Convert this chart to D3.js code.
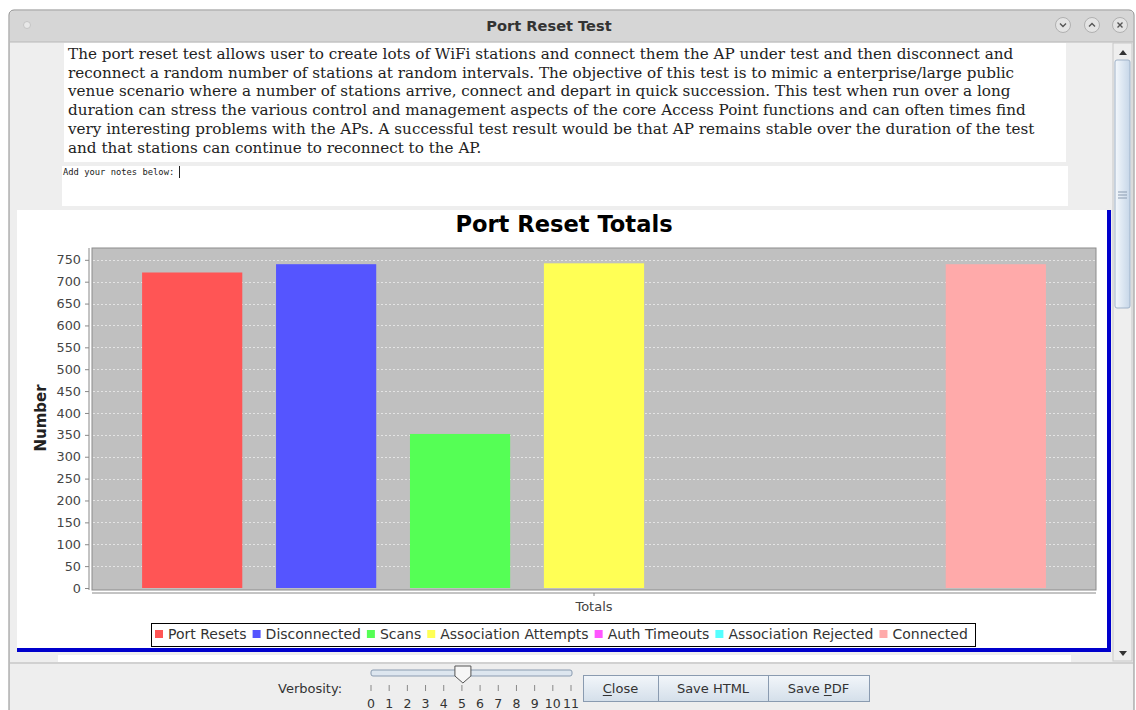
<!DOCTYPE html>
<html>
<head>
<meta charset="UTF-8">
<title>Port Reset Test</title>
<script src="https://cdnjs.cloudflare.com/ajax/libs/d3/7.8.5/d3.min.js"></script>
<style>
html, body { margin: 0; padding: 0; background: #ffffff; }
svg { display: block; font-family: "DejaVu Sans", sans-serif; }
</style>
</head>
<body>
<script>
// chart data
var category = "Totals";
var series = ["Port Resets", "Disconnected", "Scans", "Association Attempts",
              "Auth Timeouts", "Association Rejected", "Connected"];
var values = [721, 740, 352, 742, 0, 0, 740];
var colors = ["#ff5555", "#5555ff", "#55ff55", "#ffff55", "#ff55ff", "#55ffff", "#ffaaaa"];
var yTicks = [0, 50, 100, 150, 200, 250, 300, 350, 400, 450, 500, 550, 600, 650, 700, 750];

var description = [
  "The port reset test allows user to create lots of WiFi stations and connect them the AP under test and then disconnect and",
  "reconnect a random number of stations at random intervals. The objective of this test is to mimic a enterprise/large public",
  "venue scenario where a number of stations arrive, connect and depart in quick succession. This test when run over a long",
  "duration can stress the various control and management aspects of the core Access Point functions and can often times find",
  "very interesting problems with the APs. A successful test result would be that AP remains stable over the duration of the test",
  "and that stations can continue to reconnect to the AP."
];
var verbosityLevels = [0, 1, 2, 3, 4, 5, 6, 7, 8, 9, 10, 11];

var W = 1136, H = 710;
var svg = d3.select("body").append("svg").attr("width", W).attr("height", H);

// ---- window frame ----
svg.append("rect").attr("x", 9).attr("y", 10).attr("width", 1125).attr("height", 710)
   .attr("rx", 5).attr("fill", "#eeeeee").attr("stroke", "#8a8a8a");
svg.append("path").attr("d", "M10,42 L10,15 Q10,11 14,11 L1129,11 Q1133,11 1133,15 L1133,42 Z")
   .attr("fill", "#d6d6d6");
svg.append("line").attr("x1", 10).attr("x2", 1133).attr("y1", 42).attr("y2", 42).attr("stroke", "#b8b8b8");
svg.append("circle").attr("cx", 27).attr("cy", 25).attr("r", 3.5).attr("fill", "#e8e8e8").attr("stroke", "#c4c4c4");
svg.append("text").attr("x", 549).attr("y", 31).attr("text-anchor", "middle")
   .attr("font-weight", "bold").attr("font-size", 14.6).attr("fill", "#333").text("Port Reset Test");

var wbtn = [{x: 1063, s: "M-3,-1.5 L0,1.5 L3,-1.5"}, {x: 1092, s: "M-3,1.5 L0,-1.5 L3,1.5"}, {x: 1120, s: "M-2.5,-2.5 L2.5,2.5 M2.5,-2.5 L-2.5,2.5"}];
wbtn.forEach(function(b) {
  var g = svg.append("g").attr("transform", "translate(" + b.x + ",25)");
  g.append("circle").attr("r", 7.5).attr("fill", "#e4e4e4").attr("stroke", "#b0b0b0");
  g.append("path").attr("d", b.s).attr("fill", "none").attr("stroke", "#555").attr("stroke-width", 1.4);
});

// ---- description text ----
svg.append("rect").attr("x", 64).attr("y", 43).attr("width", 1002).attr("height", 119).attr("fill", "#ffffff");
svg.append("g").selectAll("text").data(description).enter().append("text")
   .attr("x", 68).attr("y", function(d, i) { return 59 + i * 18.7; })
   .attr("font-family", "'DejaVu Serif', serif").attr("font-size", 15.2).attr("fill", "#222")
   .text(function(d) { return d; });

svg.append("rect").attr("x", 62).attr("y", 166).attr("width", 1006).attr("height", 40).attr("fill", "#ffffff");
svg.append("text").attr("x", 63).attr("y", 175).attr("font-family", "'DejaVu Sans Mono', monospace")
   .attr("font-size", 8.8).attr("fill", "#222").text("Add your notes below:");
svg.append("line").attr("x1", 179.5).attr("x2", 179.5).attr("y1", 166).attr("y2", 178).attr("stroke", "#222");

// ---- chart panel ----
svg.append("rect").attr("x", 17).attr("y", 210).attr("width", 1093).attr("height", 442).attr("fill", "#ffffff");
svg.append("rect").attr("x", 1107).attr("y", 210).attr("width", 4).attr("height", 442).attr("fill", "#0000cc");
svg.append("rect").attr("x", 17).attr("y", 648).attr("width", 1094).attr("height", 4).attr("fill", "#0000cc");
svg.append("rect").attr("x", 58).attr("y", 655).attr("width", 1013).attr("height", 7).attr("fill", "#ffffff");

svg.append("text").attr("x", 564).attr("y", 232).attr("text-anchor", "middle")
   .attr("font-weight", "bold").attr("font-size", 22.6).attr("fill", "#000").text("Port Reset Totals");

var plot = {left: 92, right: 1096, top: 248, bottom: 590};
var y = d3.scaleLinear().domain([0, 777]).range([588, 248]);
var x = d3.scaleBand().domain(series).range([plot.left, plot.right]).paddingInner(0.252).paddingOuter(0.374);

svg.append("rect").attr("x", plot.left).attr("y", plot.top)
   .attr("width", plot.right - plot.left).attr("height", plot.bottom - plot.top)
   .attr("fill", "#c0c0c0").attr("stroke", "#8c8c8c").attr("stroke-width", 1);

// gridlines
svg.append("g").selectAll("line").data(yTicks.slice(1)).enter().append("line")
   .attr("x1", plot.left + 1).attr("x2", plot.right - 1)
   .attr("y1", function(d) { return Math.round(y(d)) + 0.5; })
   .attr("y2", function(d) { return Math.round(y(d)) + 0.5; })
   .attr("stroke", "#eeeeee").attr("stroke-dasharray", "2,2").attr("stroke-width", 0.8);

// bars
svg.append("g").selectAll("rect").data(values).enter().append("rect")
   .attr("x", function(d, i) { return x(series[i]); })
   .attr("width", x.bandwidth())
   .attr("y", function(d) { return y(d); })
   .attr("height", function(d) { return y(0) - y(d); })
   .attr("fill", function(d, i) { return colors[i]; });

// y axis
var yAxis = d3.axisLeft(y).tickValues(yTicks).tickSize(4).tickPadding(4);
var ya = svg.append("g").attr("transform", "translate(89,0)").call(yAxis);
ya.select(".domain").attr("d", "M0," + plot.top + "V" + plot.bottom).attr("stroke", "#888");
ya.selectAll(".tick line").attr("stroke", "#888");
ya.selectAll(".tick text").attr("font-family", "'DejaVu Sans', sans-serif").attr("font-size", 12.8).attr("fill", "#444");

svg.append("text").attr("transform", "translate(46,418) rotate(-90)").attr("text-anchor", "middle")
   .attr("font-weight", "bold").attr("font-size", 15).attr("fill", "#222").text("Number");

// x axis
var xc = d3.scaleBand().domain([category]).range([plot.left, plot.right]);
var xAxis = d3.axisBottom(xc).tickSize(3).tickPadding(6);
var xa = svg.append("g").attr("transform", "translate(0,593)").call(xAxis);
xa.select(".domain").attr("d", "M" + plot.left + ",0H" + plot.right).attr("stroke", "#888");
xa.selectAll(".tick line").attr("stroke", "#888");
xa.selectAll(".tick text").attr("font-family", "'DejaVu Sans', sans-serif").attr("font-size", 13).attr("fill", "#444");

// legend
var lg = svg.append("g");
lg.append("rect").attr("x", 151.5).attr("y", 623.5).attr("width", 824).attr("height", 23)
  .attr("fill", "#fff").attr("stroke", "#000");
var lx = 155;
series.forEach(function(s, i) {
  lg.append("rect").attr("x", lx).attr("y", 630).attr("width", 8).attr("height", 8).attr("fill", colors[i]);
  var t = lg.append("text").attr("x", lx + 13).attr("y", 639).attr("font-size", 14).attr("fill", "#333").text(s);
  lx += 13 + t.node().getComputedTextLength() + 6;
});

// ---- scrollbar ----
svg.append("rect").attr("x", 1113).attr("y", 43).attr("width", 19).attr("height", 618).attr("fill", "#eeeeee").attr("stroke", "#c8c8c8");
svg.append("path").attr("d", "M1119,55 L1123,50 L1127,55 Z").attr("fill", "#333");
svg.append("path").attr("d", "M1119,651 L1123,656 L1127,651 Z").attr("fill", "#333");
var sg = svg.append("defs").append("linearGradient").attr("id", "thumb").attr("x1", 0).attr("x2", 1);
sg.append("stop").attr("offset", 0).attr("stop-color", "#f4f8fc");
sg.append("stop").attr("offset", 1).attr("stop-color", "#c6d6e8");
svg.append("rect").attr("x", 1115).attr("y", 60).attr("width", 15).attr("height", 248).attr("rx", 2)
   .attr("fill", "url(#thumb)").attr("stroke", "#9fb2c8");
[192, 195, 198].forEach(function(gy) {
  svg.append("line").attr("x1", 1118).attr("x2", 1127).attr("y1", gy).attr("y2", gy).attr("stroke", "#8a9bb0");
});

// ---- bottom controls ----
svg.append("rect").attr("x", 10).attr("y", 663).attr("width", 1123).attr("height", 47).attr("fill", "#eeeeee");
svg.append("line").attr("x1", 10).attr("x2", 1133).attr("y1", 663).attr("y2", 663).attr("stroke", "#b4b4b4");
svg.append("text").attr("x", 278).attr("y", 693).attr("font-size", 13).attr("fill", "#333").text("Verbosity:");

var vs = d3.scaleLinear().domain([0, 11]).range([371, 571]);
svg.append("rect").attr("x", 371).attr("y", 670).attr("width", 201).attr("height", 6).attr("rx", 2)
   .attr("fill", "#dde6ef").attr("stroke", "#8a9bb0");
svg.append("g").selectAll("line").data(verbosityLevels).enter().append("line")
   .attr("x1", function(d) { return vs(d); }).attr("x2", function(d) { return vs(d); })
   .attr("y1", 685).attr("y2", 691).attr("stroke", "#888");
svg.append("g").selectAll("text").data(verbosityLevels).enter().append("text")
   .attr("x", function(d) { return vs(d); }).attr("y", 708).attr("text-anchor", "middle")
   .attr("font-size", 12.5).attr("fill", "#333").text(function(d) { return d; });
var tx = vs(5) + 1;
svg.append("path").attr("d", "M" + (tx - 8) + ",666 H" + (tx + 8) + " V676 L" + tx + ",683 L" + (tx - 8) + ",676 Z")
   .attr("fill", "#f6f6f6").attr("stroke", "#555");

var bg = svg.select("defs").append("linearGradient").attr("id", "btn").attr("x1", 0).attr("x2", 0).attr("y1", 0).attr("y2", 1);
bg.append("stop").attr("offset", 0).attr("stop-color", "#f2f6fa");
bg.append("stop").attr("offset", 1).attr("stop-color", "#d4dfea");
var buttons = [{x: 583, w: 75, t: "Close", u: 0}, {x: 658, w: 110, t: "Save HTML", u: -1}, {x: 768, w: 101, t: "Save PDF", u: 5}];
buttons.forEach(function(b) {
  svg.append("rect").attr("x", b.x + 0.5).attr("y", 675.5).attr("width", b.w).attr("height", 26)
     .attr("fill", "url(#btn)").attr("stroke", "#8a9bb0");
  var t = svg.append("text").attr("x", b.x + b.w / 2).attr("y", 693).attr("text-anchor", "middle")
     .attr("font-size", 13).attr("fill", "#333").text(b.t);
  if (b.u >= 0) {
    var n = t.node();
    var s = n.getStartPositionOfChar(b.u), e = n.getEndPositionOfChar(b.u);
    svg.append("line").attr("x1", s.x).attr("x2", e.x).attr("y1", 695.5).attr("y2", 695.5).attr("stroke", "#333");
  }
});
</script>
</body>
</html>
